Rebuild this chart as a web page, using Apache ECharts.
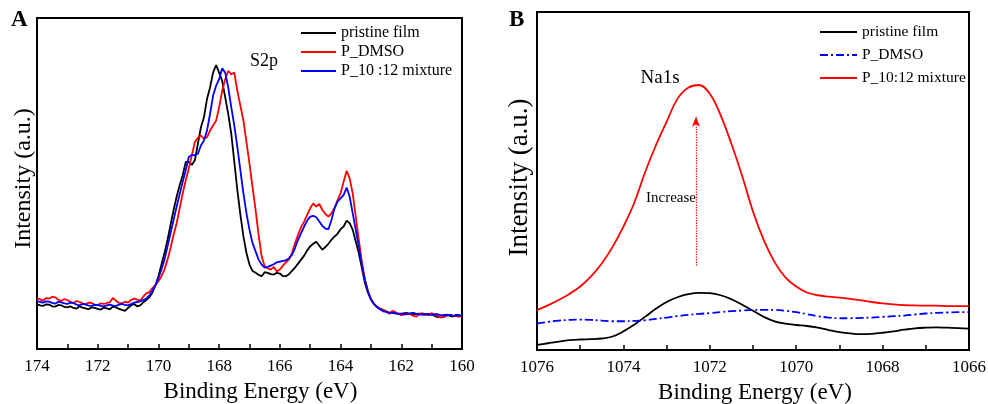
<!DOCTYPE html>
<html>
<head>
<meta charset="utf-8">
<script src="https://cdn.jsdelivr.net/npm/echarts@6/dist/echarts.min.js"></script>
<style>
html,body{margin:0;padding:0;background:#fff;}
#c{width:988px;height:404px;}
</style>
</head>
<body>
<div id="c"></div>
<script>
// ---------- Panel A : S2p (binding energy, eV) ----------
const xA = [174.0,173.9,173.8,173.7,173.6,173.5,173.4,173.3,173.2,173.1,173.0,172.9,172.8,172.7,172.6,172.5,172.4,172.3,172.2,172.1,
172.0,171.9,171.8,171.7,171.6,171.5,171.4,171.3,171.2,171.1,171.0,170.9,170.8,170.7,170.6,170.5,170.4,170.3,170.2,170.1,
170.0,169.9,169.8,169.7,169.6,169.5,169.4,169.3,169.2,169.1,169.0,168.9,168.8,168.7,168.6,168.5,168.4,168.3,168.2,168.1,
168.0,167.9,167.8,167.7,167.6,167.5,167.4,167.3,167.2,167.1,167.0,166.9,166.8,166.7,166.6,166.5,166.4,166.3,166.2,166.1,
166.0,165.9,165.8,165.7,165.6,165.5,165.4,165.3,165.2,165.1,165.0,164.9,164.8,164.7,164.6,164.5,164.4,164.3,164.2,164.1,
164.0,163.9,163.8,163.7,163.6,163.5,163.4,163.3,163.2,163.1,163.0,162.9,162.8,162.7,162.6,162.5,162.4,162.3,162.2,162.1,
162.0,161.9,161.8,161.7,161.6,161.5,161.4,161.3,161.2,161.1,161.0,160.9,160.8,160.7,160.6,160.5,160.4,160.3,160.2,160.1,
160.0];
const pristineA = [13.6,13.2,13.0,13.5,13.4,12.9,12.8,13.3,13.2,12.7,12.6,12.9,12.4,12.2,12.9,12.5,12.3,12.0,12.6,12.4,
12.1,11.9,12.5,12.3,12.0,12.8,12.6,12.1,11.8,11.5,12.4,13.2,13.6,12.9,13.2,14.1,14.8,15.6,17.0,19.2,
22.0,25.5,29.0,33.0,37.5,42.0,46.0,49.5,52.5,56.5,56.5,55.6,57.0,62.0,67.0,70.0,75.5,79.0,83.5,85.8,
83.5,81.0,76.0,71.0,65.0,56.5,48.0,40.5,34.0,29.0,25.5,23.6,23.0,22.4,22.0,23.2,23.0,22.6,22.5,23.0,
22.8,22.0,22.0,22.6,23.6,24.6,25.8,27.0,28.2,29.8,31.0,31.8,32.4,31.2,30.0,30.8,31.8,33.0,34.0,34.8,
36.2,37.0,38.8,38.0,36.0,32.5,29.0,24.5,20.0,17.0,15.0,13.6,12.8,12.2,11.8,11.4,11.0,10.9,10.8,10.7,
10.6,10.8,10.9,10.5,10.4,10.6,10.7,10.4,10.3,10.6,10.5,10.0,9.6,10.1,10.2,10.4,10.0,9.8,10.3,10.2,
9.9];
const dmsoA = [15.3,15.0,14.6,15.4,15.2,15.8,15.6,14.9,14.5,15.1,14.8,14.3,13.8,14.5,14.2,13.8,13.5,14.0,13.9,13.4,
13.3,13.8,13.6,13.9,14.1,15.4,14.6,13.9,13.8,14.3,14.0,14.8,15.2,14.9,14.6,15.8,16.8,17.2,18.4,19.2,
20.5,22.0,24.0,27.0,30.5,34.5,38.0,42.5,47.0,51.0,54.5,58.5,62.5,63.8,64.5,63.5,64.0,66.0,67.5,69.0,
73.0,78.0,81.5,84.0,83.0,83.5,78.0,73.5,69.0,62.5,56.0,49.0,42.0,34.5,28.0,25.0,24.4,24.0,24.8,23.4,
24.0,25.2,26.2,27.0,29.0,32.0,34.5,36.8,38.5,40.5,42.5,44.0,43.0,43.8,42.0,40.8,40.0,41.0,42.5,45.0,
47.0,50.5,53.8,51.5,47.0,40.0,33.0,26.5,21.0,17.5,15.0,13.6,12.8,12.0,11.8,11.4,10.6,11.5,11.2,10.6,
10.2,10.4,10.8,10.5,10.0,9.8,10.6,10.8,10.4,10.2,10.9,10.3,10.0,9.5,9.6,10.1,10.4,10.0,10.1,9.7,
10.2];
const mixA = [14.5,14.2,14.0,14.4,14.3,13.9,13.7,14.3,14.1,13.8,13.6,14.0,13.9,13.4,13.2,13.6,13.5,13.1,13.0,13.3,
13.3,13.0,12.9,13.2,13.4,13.1,13.0,13.4,13.6,13.3,13.2,13.6,14.0,14.2,14.4,14.8,15.2,16.2,17.5,19.3,
21.5,24.0,27.0,31.0,35.0,39.0,43.0,46.8,50.5,54.0,58.0,58.6,58.6,59.0,61.5,63.0,66.0,71.0,76.5,79.5,
81.5,84.8,83.5,79.0,73.0,67.5,61.0,54.0,47.0,41.0,36.0,32.0,29.5,27.0,25.5,24.6,24.8,25.2,25.6,26.2,
26.4,26.6,26.8,27.4,28.5,30.5,33.0,35.0,37.0,38.8,40.0,40.2,39.8,38.5,37.2,36.4,36.2,39.0,42.5,44.5,
45.5,46.5,48.8,46.0,41.0,36.0,31.0,25.5,21.0,17.5,15.0,13.6,12.6,12.0,11.4,11.2,11.0,10.9,10.8,10.6,
10.7,10.6,10.5,10.8,10.9,10.6,10.4,10.5,10.6,10.4,10.3,10.5,10.5,10.2,10.1,10.2,10.3,10.1,10.0,10.2,
10.1];
const namesA = ['pristine film','P_DMSO','P_10 :12 mixture'];

// ---------- Panel B : Na1s (binding energy, eV) ----------
const xB = [1076.00,1075.75,1075.50,1075.25,1075.00,1074.75,1074.50,1074.25,1074.00,1073.75,1073.50,1073.25,1073.00,1072.75,
1072.50,1072.25,1072.00,1071.75,1071.50,1071.25,1071.00,1070.75,1070.50,1070.25,1070.00,1069.75,1069.50,1069.25,
1069.00,1068.75,1068.50,1068.25,1068.00,1067.75,1067.50,1067.25,1067.00,1066.75,1066.50,1066.25,1066.00];
const pristineB = [1.5,2.0,2.5,2.9,3.1,3.2,3.4,4.0,5.5,7.5,9.8,12.2,14.2,15.6,
16.5,16.9,16.8,16.2,15.0,13.4,11.6,9.8,8.5,7.8,7.4,7.1,6.6,5.9,
5.3,4.9,4.7,4.8,5.1,5.5,6.0,6.4,6.6,6.7,6.6,6.5,6.3];
const dmsoB = [7.8,8.3,8.7,8.9,9.0,8.9,8.7,8.5,8.5,8.6,8.8,9.2,9.6,10.0,
10.4,10.7,10.9,11.2,11.5,11.7,11.8,11.9,11.9,11.6,11.2,10.6,10.0,9.6,
9.4,9.4,9.5,9.6,9.8,10.0,10.2,10.5,10.8,11.0,11.1,11.2,11.2];
const mixB = [11.8,13.2,14.8,16.6,18.8,21.8,25.6,30.5,36.5,43.5,52.5,60.5,67.5,74.3,
77.6,78.4,75.8,69.5,61.0,51.5,41.0,32.5,26.0,21.5,18.8,17.0,16.2,15.8,
15.5,15.1,14.7,14.2,13.8,13.5,13.3,13.2,13.1,13.1,13.0,13.0,13.0];
const namesB = ['pristine film','P_DMSO','P_10:12 mixture'];
const arrowX = 1072.32;
const arrowY = [25, 69];

const xRangeA = [160, 174];
const xRangeB = [1066, 1076];

const SERIF = '"Liberation Serif","Times New Roman",serif';
const pair = (xs, ys) => xs.map((x, i) => [x, ys[i]]);

function xAxisCfg(grid, range, namePad) {
  return {
    type: 'value', gridIndex: grid, min: range[0], max: range[1], interval: 1, inverse: true,
    axisLine: {show: true, onZero: false, lineStyle: {color: '#000', width: 2}},
    axisTick: {show: true, inside: true, length: 5, lineStyle: {color: '#000', width: 1.5}},
    axisLabel: {formatter: v => (v % 2 === 0 ? String(v) : ''), fontSize: 17, color: '#000', fontFamily: SERIF, margin: 9},
    splitLine: {show: false},
    name: 'Binding Energy (eV)', nameLocation: 'middle', nameGap: 31,
    nameTextStyle: {fontSize: 23, color: '#000', fontFamily: SERIF, padding: namePad}
  };
}
function yAxisCfg(grid, size, gap, pad) {
  return {
    type: 'value', gridIndex: grid, min: 0, max: 100,
    axisLine: {show: false}, axisTick: {show: false}, axisLabel: {show: false}, splitLine: {show: false},
    name: 'Intensity (a.u.)', nameLocation: 'middle', nameGap: gap,
    nameTextStyle: {fontSize: size, color: '#000', fontFamily: SERIF, padding: pad}
  };
}
function lineSeries(name, grid, data, color, type, extra) {
  return Object.assign({
    name: name, type: 'line', xAxisIndex: grid, yAxisIndex: grid, data: data,
    symbol: 'none', smooth: grid === 1 ? 0.4 : false, animation: false,
    lineStyle: {color: color, width: 1.8, type: type}, itemStyle: {color: color}
  }, extra || {});
}

const chart = echarts.init(document.getElementById('c'), null, {renderer: 'canvas'});
chart.setOption({
  backgroundColor: '#fff',
  animation: false,
  grid: [
    {left: 37, right: 526, top: 18, bottom: 55, outerBoundsMode: 'none', containLabel: false, show: true, borderColor: '#000', borderWidth: 2, backgroundColor: 'transparent'},
    {left: 537, right: 19, top: 12, bottom: 54, outerBoundsMode: 'none', containLabel: false, show: true, borderColor: '#000', borderWidth: 2, backgroundColor: 'transparent'}
  ],
  xAxis: [xAxisCfg(0, xRangeA, [0, 0, 0, 22]), xAxisCfg(1, xRangeB, [0, 0, 0, 4])],
  yAxis: [yAxisCfg(0, 24, 1.5, [0, 0, 0, 10]), yAxisCfg(1, 27, 4, [0, 0, 0, 7])],
  legend: [
    {
      left: 300, top: 25, orient: 'vertical', padding: 0, itemWidth: 35, itemHeight: 14, itemGap: 3,
      selectedMode: false,
      itemStyle: {opacity: 0},
      data: namesA.map(n => 'A|' + n),
      formatter: n => n.split('|')[1],
      textStyle: {fontSize: 16, lineHeight: 16, color: '#000', fontFamily: SERIF}
    },
    {
      left: 819, top: 24, orient: 'vertical', padding: 0, itemWidth: 37, itemHeight: 14, itemGap: 7,
      selectedMode: false,
      itemStyle: {opacity: 0},
      data: namesB.map(n => 'B|' + n),
      formatter: n => n.split('|')[1],
      textStyle: {fontSize: 15.5, lineHeight: 16, color: '#000', fontFamily: SERIF}
    }
  ],
  series: [
    lineSeries('A|' + namesA[0], 0, pair(xA, pristineA), '#000000', 'solid'),
    lineSeries('A|' + namesA[1], 0, pair(xA, dmsoA), '#ff0000', 'solid'),
    lineSeries('A|' + namesA[2], 0, pair(xA, mixA), '#0000ff', 'solid'),
    lineSeries('B|' + namesB[0], 1, pair(xB, pristineB), '#000000', 'solid'),
    lineSeries('B|' + namesB[1], 1, pair(xB, dmsoB), '#0000ff', [8, 3, 2, 3]),
    lineSeries('B|' + namesB[2], 1, pair(xB, mixB), '#ff0000', 'solid', {
      markLine: {
        silent: true, animation: false, symbol: ['none', 'arrow'], symbolSize: [6, 10],
        label: {show: false},
        lineStyle: {color: '#ff0000', type: 'dotted', width: 1.3},
        data: [[{coord: [arrowX, arrowY[0]]}, {coord: [arrowX, arrowY[1]]}]]
      }
    })
  ],
  graphic: [
    {type: 'text', left: 11, top: 9, style: {text: 'A', font: 'bold 23px ' + SERIF, fill: '#000'}},
    {type: 'text', left: 509, top: 9, style: {text: 'B', font: 'bold 23px ' + SERIF, fill: '#000'}},
    {type: 'text', x: 264, y: 61, style: {text: 'S2p', font: '18px ' + SERIF, fill: '#000', align: 'center', verticalAlign: 'middle'}},
    {type: 'text', x: 660, y: 78, style: {text: 'Na1s', font: '19px ' + SERIF, fill: '#000', align: 'center', verticalAlign: 'middle'}},
    {type: 'text', x: 671, y: 198, style: {text: 'Increase', font: '15px ' + SERIF, fill: '#000', align: 'center', verticalAlign: 'middle'}}
  ]
});
</script>
</body>
</html>
